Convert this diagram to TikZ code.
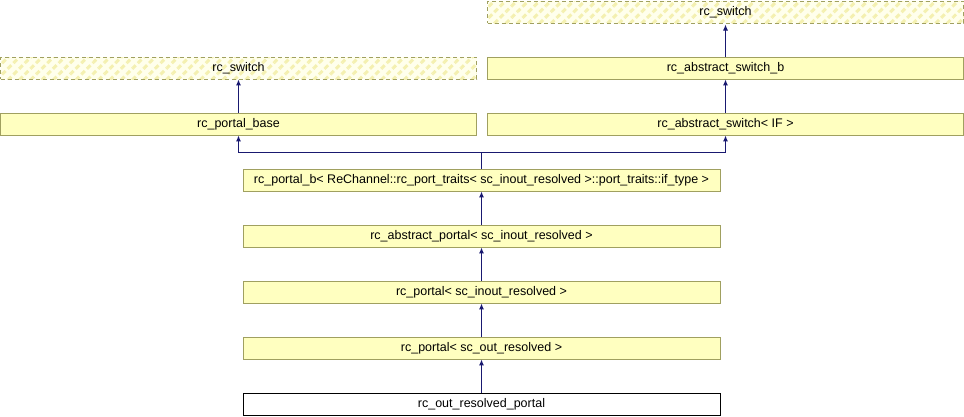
\documentclass[tikz,border=0pt]{standalone}
\usepackage{fontspec}
\setmainfont{Liberation Sans}
\usepackage{tikz}
\usetikzlibrary{positioning,arrows.meta,patterns.meta}

\definecolor{boxfill}{HTML}{FFFFC0}
\definecolor{boxline}{HTML}{A0A060}
\definecolor{hatchfill}{HTML}{FFFFEC}
\definecolor{hatchline}{HTML}{F4F0B0}
\definecolor{edgeblue}{HTML}{191970}

\begin{document}
\begin{tikzpicture}[x=1pt, y=-1pt,
  cls/.style={draw=boxline, fill=boxfill, line width=0.9pt, minimum width=476pt,
    minimum height=22pt, inner sep=0pt, font=\fontsize{12.5}{14}\selectfont},
  undoc/.style={cls, dashed, dash pattern=on 4pt off 3pt,
    preaction={fill=hatchfill},
    pattern={Lines[angle=45, distance=8pt, line width=3pt]}, pattern color=hatchline},
  mainclass/.style={cls, draw=black, fill=white},
  edge/.style={draw=edgeblue, line width=1pt, -{Latex[length=6pt,width=5pt]}}]
\useasboundingbox (0,0) rectangle (964,416);

% bases
\node[undoc] (sw2) at (725.5,12) {rc\_switch};
\node[cls] (absb) at (725.5,68) {rc\_abstract\_switch\_b};
\node[cls] (absif) at (725.5,124) {rc\_abstract\_switch< IF >};
\node[undoc] (sw1) at (238.5,68) {rc\_switch};
\node[cls] (base) at (238.5,124) {rc\_portal\_base};

% chain
\node[cls, minimum width=477pt] (portalb) at (481.5,180)
  {rc\_portal\_b< ReChannel::rc\_port\_traits< sc\_inout\_resolved >::port\_traits::if\_type >};
\node[cls, minimum width=477pt] (absportal) at (481.5,236) {rc\_abstract\_portal< sc\_inout\_resolved >};
\node[cls, minimum width=477pt] (inout) at (481.5,292) {rc\_portal< sc\_inout\_resolved >};
\node[cls, minimum width=477pt] (outp) at (481.5,348) {rc\_portal< sc\_out\_resolved >};
\node[mainclass, minimum width=477pt] (main) at (481.5,404) {rc\_out\_resolved\_portal};

\coordinate (fork) at (481.5,152);

\draw[edge] (absb.north) -- (sw2.south);
\draw[edge] (absif.north) -- (absb.south);
\draw[edge] (base.north) -- (sw1.south);
\draw[draw=edgeblue, line width=1pt] (portalb.north) -- (fork);
\draw[edge] (fork) -| (base.south);
\draw[edge] (fork) -| (absif.south);
\draw[edge] (absportal.north) -- (portalb.south);
\draw[edge] (inout.north) -- (absportal.south);
\draw[edge] (outp.north) -- (inout.south);
\draw[edge] (main.north) -- (outp.south);
\end{tikzpicture}
\end{document}
